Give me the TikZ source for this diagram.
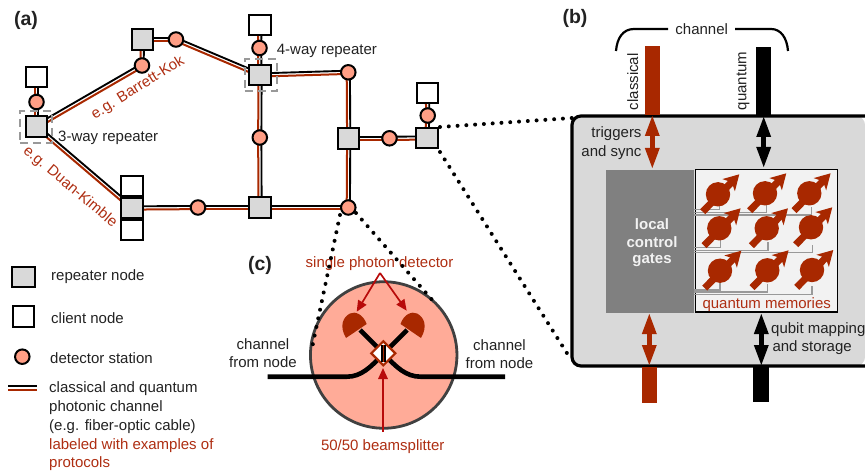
\documentclass[tikz,border=0pt]{standalone}
\usepackage{fontspec}
\setmainfont{Liberation Sans}
\usetikzlibrary{arrows.meta,backgrounds,shapes.geometric}
\definecolor{hred}{HTML}{A82800}
\definecolor{labred}{HTML}{AE2E12}
\definecolor{arrred}{HTML}{B80A0A}
\definecolor{txtcol}{HTML}{222222}
\definecolor{salm}{HTML}{FF9E85}
\definecolor{salmb}{HTML}{FFAB98}
\tikzset{
  repnode/.style={draw=black,line width=2pt,fill=black!15,minimum width=21.5pt,minimum height=20.5pt,inner sep=0pt},
  clinode/.style={draw=black,line width=2pt,fill=white,minimum width=21.5pt,minimum height=20.5pt,inner sep=0pt},
  detnode/.style={circle,draw=black,line width=2pt,fill=salm,minimum size=14.5pt,inner sep=0pt},
  cblack/.style={draw=black,line width=1.9pt},
  cred/.style={draw=hred,line width=2pt},
  txt/.style={font=\fontsize{15}{16}\selectfont,text=txtcol,inner sep=0pt},
  rtxt/.style={font=\fontsize{15}{16}\selectfont,text=labred,inner sep=0pt},
  wtxt/.style={font=\fontsize{15}{16}\selectfont\bfseries,text=black!5,inner sep=0pt},
  pan/.style={font=\fontsize{19.5}{21}\selectfont\bfseries,text=txtcol,inner sep=0pt},
  dashbox/.style={draw=black!40,line width=1.8pt,dash pattern=on 8pt off 5pt},
  dots/.style={draw=black,line width=4pt,line cap=round,dash pattern=on 0pt off 8.8pt},
  wire/.style={draw=black!40,line width=1.2pt},
  dblred/.style={draw=hred,line width=4.5pt,{Triangle[length=21pt,width=13.5pt]}-{Triangle[length=21pt,width=13.5pt]}},
  dblblk/.style={draw=black,line width=4.5pt,{Triangle[length=21pt,width=13.5pt]}-{Triangle[length=21pt,width=13.5pt]}},
  arrow red/.style={draw=arrred,line width=1.7pt,-{Triangle[length=11pt,width=9.5pt]}},
  fibre/.style={draw=black,line width=4.6pt},
}
\newcommand{\chan}[4]{%
  \draw[cred] ([xshift={(#3)*(-1.15pt)},yshift={(#4)*(-1.15pt)}]#1.center) -- ([xshift={(#3)*(-1.15pt)},yshift={(#4)*(-1.15pt)}]#2.center);
  \draw[cblack] ([xshift={(#3)*1.15pt},yshift={(#4)*1.15pt}]#1.center) -- ([xshift={(#3)*1.15pt},yshift={(#4)*1.15pt}]#2.center);}
\newcommand{\spinat}[2]{%
  \begin{scope}[shift={(#1,#2)}]
    \fill[hred] (0,0) circle (12.2pt);
    \draw[draw=hred,line width=7pt,-{Stealth[length=15pt,width=17pt,inset=4pt]}] (-15.3,17.4) -- (21.3,-20);
  \end{scope}}
\begin{document}
\begin{tikzpicture}[x=1pt,y=-1pt]
\useasboundingbox (0,0) rectangle (865,473);

% panel (b)
\fill[black!15,rounded corners=9pt] (572,116) -- (572,366) -- (865,366) -- (865,116) -- cycle;
\draw[black,line width=3.2pt,rounded corners=9pt] (865,116) -- (572,116) -- (572,366) -- (865,366);
\fill[hred] (644.7,46) rectangle (660,115);
\fill[black] (756,47.5) rectangle (771,115);
\fill[hred] (641.7,367) rectangle (657,403);
\fill[black] (753,367) rectangle (768.7,402);
\node[minimum width=88.3pt,minimum height=142.7pt,inner sep=0pt,fill=black!50] (gates) at (650.2,241.3) {};
\node[draw=black,line width=1.5pt,fill=black!5,minimum width=142pt,minimum height=142.5pt,inner sep=0pt] (mem) at (766.7,240.7) {};
\foreach \ya/\xa in {209.3/719.3,212.3/766.7,215/811.3,247.3/720.7,250.3/768,252.8/812.6,290/720,292/767.6,294.3/812}{
  \draw[wire] (694,\ya) -| (\xa,\ya-8);
}
\spinat{718}{194.3}\spinat{765}{193.3}\spinat{809.3}{193.3}
\spinat{719.3}{228.3}\spinat{766.7}{228.3}\spinat{811}{227.3}
\spinat{720}{270.7}\spinat{767.3}{270.3}\spinat{812}{270}
\node[wtxt] (gl1) at (652,224) {local};
\node[wtxt] (gl2) at (652,242) {control};
\node[wtxt] (gl3) at (652,260) {gates};
\node[rtxt] (qm) at (766.7,304.3) {quantum memories};
\coordinate (t1a) at (652.3,115); \coordinate (t1b) at (652.3,169);
\coordinate (t2a) at (763.7,116); \coordinate (t2b) at (763.7,168);
\coordinate (b1a) at (649.3,313); \coordinate (b1b) at (649.3,366);
\coordinate (b2a) at (761.3,313); \coordinate (b2b) at (761.3,366);
\draw[dblred] (t1a) -- (t1b);
\draw[dblblk] (t2a) -- (t2b);
\draw[dblred] (b1a) -- (b1b);
\draw[dblblk] (b2a) -- (b2b);
\node[txt,anchor=east] (trig) at (641.7,134) {triggers};
\node[txt,anchor=east] (sync) at (641.7,153) {and sync};
\node[txt,anchor=west] (qmap) at (771,330) {qubit mapping};
\node[txt,anchor=west] (qsto) at (772.3,348) {and storage};
\node[txt] (chn) at (701.7,29) {channel};
\node[txt,rotate=90] (cla) at (632.7,81.7) {classical};
\node[txt,rotate=90] (qua) at (743,81) {quantum};
\draw[black,line width=2.2pt] (668,29) -- (634,29) .. controls (623,29) and (617,38) .. (616,51);
\draw[black,line width=2.2pt] (735,29) -- (771,29) .. controls (781,29) and (787,38) .. (788,51);
\node[pan] (lb) at (575,18) {(b)};

% panel (c)
\node[circle,draw=black!75,line width=2.8pt,fill=salmb,minimum size=146.5pt,inner sep=0pt] (big) at (383.7,355) {};
\draw[fibre] (267.7,376.7) -- (347,376.7) .. controls (361,376.7) and (371,367) .. (382,355) -- (407,330);
\draw[fibre] (505,376.7) -- (420.5,376.7) .. controls (406,376.7) and (396,367) .. (385,355) -- (360,330);
\fill[hred] (400.5,324) .. controls (404,314) and (412,311) .. (417,313.5) .. controls (424,317) and (428,326) .. (421,338) -- cycle;
\fill[hred] (366.7,324) .. controls (363,314) and (355,311) .. (350,313.5) .. controls (343,317) and (339,326) .. (346,338) -- cycle;
\node[diamond,draw=hred,line width=2.2pt,fill=white,minimum width=25pt,minimum height=25pt,inner sep=0pt,aspect=1] (bs) at (383.3,353.3) {};
\fill[black] (380.8,345) rectangle (385.8,361.5);
\draw[hred,line width=1pt] (383.3,345) -- (383.3,361.5);
\node[rtxt] (spd) at (379.5,263.5) {single photon detector};
\node[rtxt] (bss) at (382.7,446.7) {50/50 beamsplitter};
\coordinate (spdl) at (356.7,311.7);
\coordinate (spdr) at (406.7,310.7);
\coordinate (sfrom) at (380,273);
\coordinate (bfrom) at (383,432);
\coordinate (bto) at (383,368);
\draw[arrow red] (sfrom) -- (spdl);
\draw[arrow red] (sfrom) -- (spdr);
\draw[arrow red] (bfrom) -- (bto);
\node[txt] (cl1) at (263,344) {channel};
\node[txt] (cl2) at (263,362) {from node};
\node[txt] (cr1) at (499.5,345) {channel};
\node[txt] (cr2) at (499.5,363) {from node};
\node[pan] (lc) at (260,265) {(c)};

% network nodes
\node[repnode] (r1) at (36.5,126.5) {};
\node[repnode] (r2) at (142.5,39.5) {};
\node[repnode] (r3) at (260,75) {};
\node[repnode] (r5) at (260,207.5) {};
\node[repnode] (r6) at (348.7,138.3) {};
\node[repnode] (r7) at (427,138) {};
\node[clinode] (c1) at (36.5,77) {};
\node[clinode] (c3) at (260,25) {};
\node[clinode] (c7) at (427.5,93) {};
\node[clinode] (c4a) at (132,186) {};
\node[clinode] (c4b) at (132,230) {};
\node[repnode] (r4) at (132,208) {};
\node[detnode] (d1) at (36.5,102) {};
\node[detnode] (d2) at (142,65.5) {};
\node[detnode] (d3) at (176,39.5) {};
\node[detnode] (d4) at (259.5,48) {};
\node[detnode] (d5) at (259.8,137.5) {};
\node[detnode] (d6) at (348.3,72.3) {};
\node[detnode] (d7) at (389.5,138.3) {};
\node[detnode] (d8) at (427.7,115.5) {};
\node[detnode] (d9) at (198,207.5) {};
\node[detnode] (d10) at (348.3,207.5) {};
\begin{scope}[on background layer]
\chan{c1}{d1}{1.4}{0}
\chan{d1}{r1}{1.4}{0}
\chan{r1}{d2}{-0.9}{1.2}
\chan{d2}{r2}{1.4}{0}
\chan{r2}{d3}{0}{1.4}
\chan{d3}{r3}{0.6}{1.3}
\chan{c3}{d4}{1.4}{0}
\chan{d4}{r3}{1.4}{0}
\chan{r3}{d6}{0}{1.4}
\chan{r3}{d5}{1.4}{0}
\chan{d5}{r5}{1.4}{0}
\chan{r1}{r4}{0.9}{1.1}
\chan{r4}{d9}{0}{1.4}
\chan{d9}{r5}{0}{1.4}
\chan{r5}{d10}{0}{1.4}
\chan{d10}{r6}{1.4}{0}
\chan{r6}{d6}{1.4}{0}
\chan{r6}{d7}{0}{1.4}
\chan{d7}{r7}{0}{1.4}
\chan{r7}{d8}{1.4}{0}
\chan{d8}{c7}{1.4}{0}
\end{scope}
\node[minimum size=32pt,dashbox,inner sep=0pt] (dash1) at (36.3,127) {};
\node[minimum size=32pt,dashbox,inner sep=0pt] (dash3) at (260.6,75) {};
\node[txt,anchor=west] (w3) at (58,138) {3-way repeater};
\node[txt,anchor=west] (w4) at (276.7,50.7) {4-way repeater};
\node[rtxt,rotate=32] (bk) at (138,88) {e.g. Barrett-Kok};
\node[rtxt,rotate=-40] (dk) at (70,187) {e.g. Duan-Kimble};
\node[pan] (la) at (26,20) {(a)};

% dotted leaders
\coordinate (p1) at (440,127); \coordinate (p2) at (572,118);
\coordinate (p3) at (440,152); \coordinate (p4) at (570,358);
\coordinate (p5) at (340,215); \coordinate (p6) at (312,348);
\coordinate (p7) at (356,213); \coordinate (p8) at (434,302);
\draw[dots] (p1) -- (p2);
\draw[dots] (p3) -- (p4);
\draw[dots] (p5) -- (p6);
\draw[dots] (p7) -- (p8);

% legend
\node[repnode,minimum width=23pt] (lr) at (23.5,277) {};
\node[clinode] (lcn) at (23.3,316.3) {};
\node[detnode] (ld) at (22.3,356.7) {};
\coordinate (l1a) at (8,385.7); \coordinate (l1b) at (37,385.7);
\coordinate (l2a) at (8,390); \coordinate (l2b) at (37,390);
\draw[cblack] (l1a) -- (l1b);
\draw[cred] (l2a) -- (l2b);
\node[txt,anchor=west] (t1) at (51,277) {repeater node};
\node[txt,anchor=west] (t2) at (51,317.7) {client node};
\node[txt,anchor=west] (t3) at (50,358) {detector station};
\node[txt,anchor=west] (t4) at (49,389) {classical and quantum};
\node[txt,anchor=west] (t5) at (49,407.3) {photonic channel};
\node[txt,anchor=west] (t6) at (49,426.7) {(e.g. fiber-optic cable)};
\node[rtxt,anchor=west] (t7) at (49,446) {labeled with examples of};
\node[rtxt,anchor=west] (t8) at (49,464) {protocols};
\end{tikzpicture}
\end{document}
